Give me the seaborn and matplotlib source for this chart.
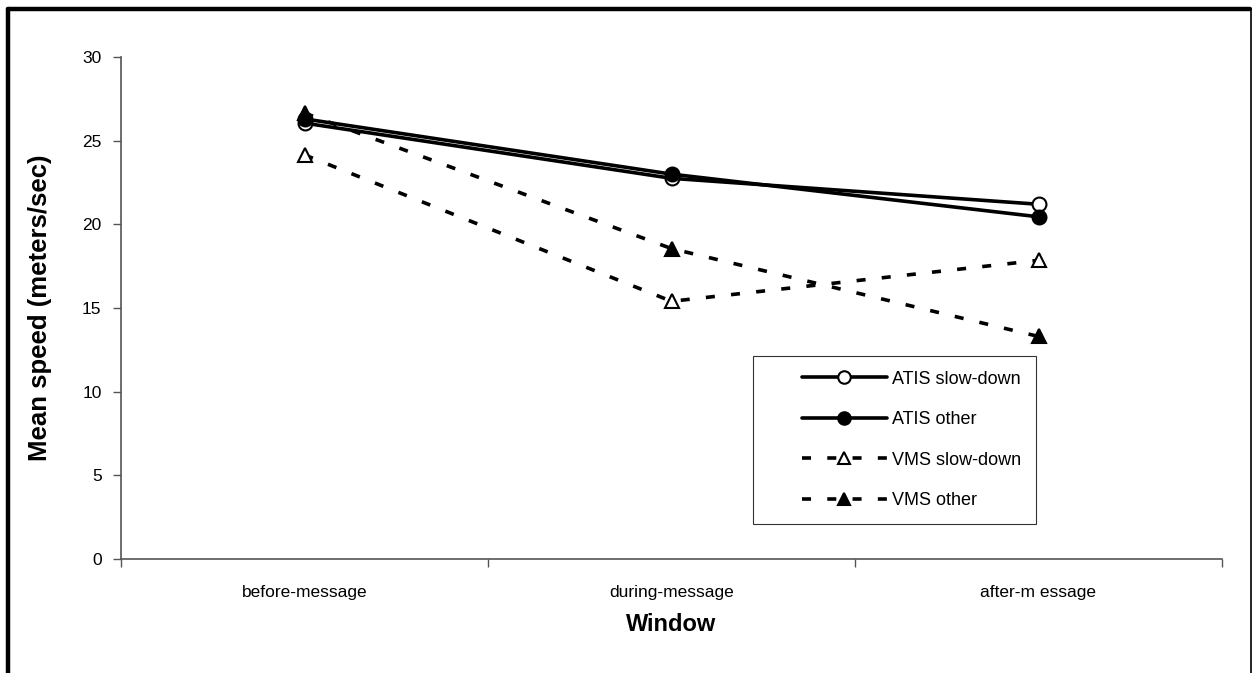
import matplotlib
matplotlib.use("Agg")
import matplotlib.pyplot as plt
import seaborn as sns
import pandas as pd
from matplotlib.lines import Line2D
from matplotlib.legend_handler import HandlerLine2D

windows = ["before-message", "during-message", "after-m essage"]
atis_slow = [26.05, 22.75, 21.2]
atis_other = [26.3, 23.0, 20.45]
vms_slow = [24.15, 15.4, 17.85]
vms_other = [26.65, 18.55, 13.3]

sns.set_theme(style="white")
plt.rcParams['font.family'] = ['Liberation Sans', 'DejaVu Sans']
plt.rcParams['text.color'] = 'black'
plt.rcParams['axes.labelcolor'] = 'black'
plt.rcParams['xtick.color'] = 'black'
plt.rcParams['ytick.color'] = 'black'

fig = plt.figure(figsize=(12.52, 6.73), dpi=100)
ax = fig.add_axes([121/1252, 1-559/673, (1222-121)/1252, (559-57)/673])

xs = list(range(len(windows)))
dash = (0, (2.5, 4.5))
series = [
    ("ATIS slow-down", atis_slow, "o", "white", "-"),
    ("ATIS other", atis_other, "o", "black", "-"),
    ("VMS slow-down", vms_slow, "^", "white", dash),
    ("VMS other", vms_other, "^", "black", dash),
]
for name, vals, mk, mfc, ls in series:
    df = pd.DataFrame({"x": xs, "y": vals})
    sns.lineplot(data=df, x="x", y="y", ax=ax, color="black", linewidth=2.6,
                 linestyle=ls, marker=mk, markersize=10, markerfacecolor=mfc,
                 markeredgecolor="black", markeredgewidth=1.5, label=name, sort=False)

ax.set_xlim(-0.5, 2.5)
ax.set_ylim(0, 30)
ax.set_yticks([0, 5, 10, 15, 20, 25, 30])
ax.set_xticks(xs)
ax.set_xticklabels(windows)
ax.set_xticks([-0.5, 0.5, 1.5, 2.5], minor=True)
ax.tick_params(axis="x", which="major", length=0, pad=19, labelsize=12.5)
ax.tick_params(axis="x", which="minor", length=6, width=1, color="#555555", direction="out", bottom=True)
ax.tick_params(axis="y", length=6, width=1, color="#555555", direction="out", left=True, labelsize=12.5, pad=8)
for s in ["top", "right"]:
    ax.spines[s].set_visible(False)
for s in ["left", "bottom"]:
    ax.spines[s].set_color("#555555")
    ax.spines[s].set_linewidth(1.2)

ax.set_xlabel("Window", fontsize=17, fontweight="bold", labelpad=9)
ax.set_ylabel("Mean speed (meters/sec)", fontsize=18.5, fontweight="bold", labelpad=22)
ax.grid(False)

handles, labels = ax.get_legend_handles_labels()
hmap = {h: HandlerLine2D(xpad=1.88) for h in handles}
leg = ax.legend(handles, labels, loc="upper left",
                bbox_to_anchor=((753-121)/1101, (559-356)/502),
                fontsize=13, handlelength=6.6, labelspacing=1.3, handletextpad=0.28,
                borderpad=0.82, frameon=True, fancybox=False, borderaxespad=0,
                handler_map=hmap, markerscale=0.9)
leg.get_frame().set_edgecolor("black")
leg.get_frame().set_linewidth(0.8)

# figure frame
fig.add_artist(Line2D([8/1252, 1250/1252], [1-8.5/673, 1-8.5/673], transform=fig.transFigure, color="black", linewidth=3.2))
fig.add_artist(Line2D([8/1252, 8/1252], [0, 1-8.5/673], transform=fig.transFigure, color="black", linewidth=3.2))
fig.add_artist(Line2D([1250.5/1252, 1250.5/1252], [0, 1-8.5/673], transform=fig.transFigure, color="black", linewidth=1.2))

fig.savefig("out.png", dpi=100)
